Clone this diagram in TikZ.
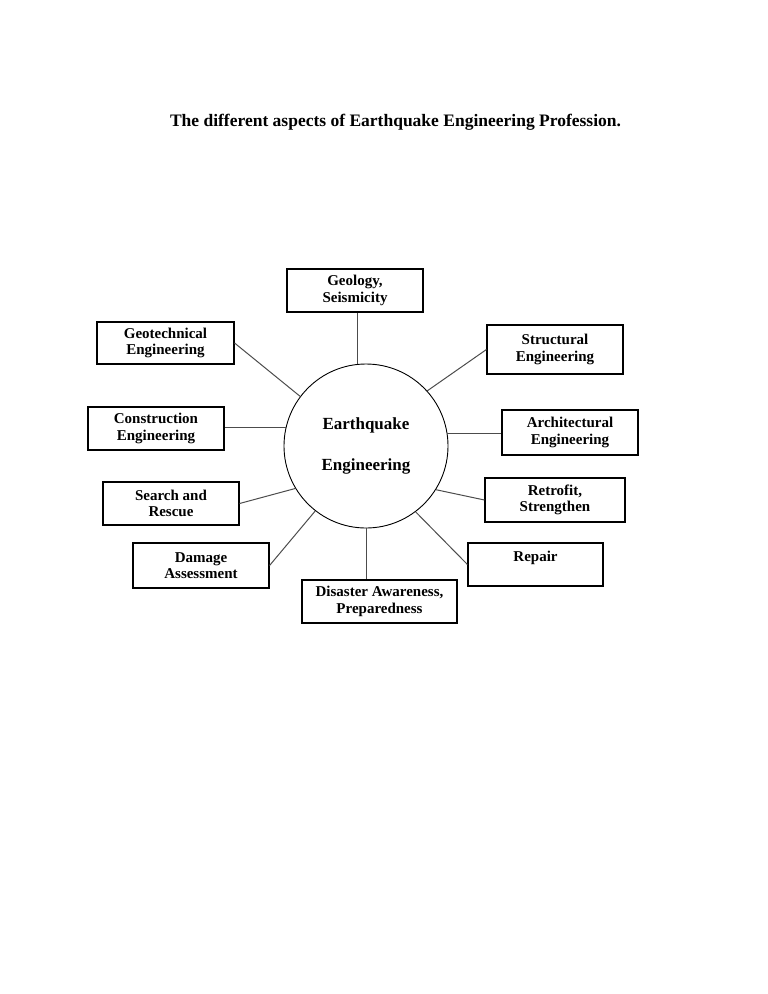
\documentclass[tikz,border=0pt]{standalone}
\usepackage{fontspec}
\setmainfont{Liberation Serif}
\begin{document}
\begin{tikzpicture}[x=1pt,y=-1pt,
  box/.style={draw, line width=1.1pt, minimum height=43pt, minimum width=136pt, inner sep=0pt, align=center, font=\fontsize{15}{16.5}\selectfont\bfseries},
  link/.style={draw=black!70, line width=1pt},
  hub/.style={circle, draw, line width=0.9pt, minimum size=164pt, inner sep=0pt, align=center, font=\fontsize{17}{20}\selectfont\bfseries}]
\useasboundingbox (0,0) rectangle (768,994);
\node[anchor=base, font=\fontsize{17.5}{20}\selectfont\bfseries] (title) at (395.5,126) {The different aspects of Earthquake Engineering Profession.};
\node[hub] (circ) at (366,446) {Earthquake\\[21pt]Engineering};
\node[box] (geo) at (355,290.5) {Geology,\\Seismicity};
\node[box, minimum width=137pt, minimum height=42pt] (geot) at (165.5,343) {Geotechnical\\Engineering};
\node[box] (cons) at (156,428.5) {Construction\\Engineering};
\node[box, minimum height=49pt] (struct) at (555,349.5) {Structural\\Engineering};
\node[box, minimum height=45pt] (arch) at (570,432.5) {Architectural\\Engineering};
\node[box] (search) at (171,503.5) {Search and\\Rescue};
\node[box, minimum height=45pt] (damage) at (201,565.5) {Damage\\Assessment};
\node[box, minimum width=155pt] (dis) at (379.5,601.5) {Disaster Awareness,\\Preparedness};
\node[box, minimum width=140pt, minimum height=44pt] (retro) at (555,500) {Retrofit,\\Strengthen};
\node[box, minimum width=135pt] (repair) at (535.5,564.5) {Repair\\\mbox{}};
\draw[link] (circ.96) -- (circ.96 |- geo.south);
\draw[link] (geot.east) -- (circ.143);
\draw[link] (circ.167) -- (circ.167 -| cons.east);
\draw[link] (struct.west) -- (circ.42);
\draw[link] (circ.9) -- (circ.9 -| arch.west);
\draw[link] (search.east) -- (circ.211);
\draw[link] (damage.east) -- (circ.232);
\draw[link] (circ.270) -- (circ.270 |- dis.north);
\draw[link] (retro.west) -- (circ.328);
\draw[link] (repair.west) -- (circ.307);
\end{tikzpicture}
\end{document}
